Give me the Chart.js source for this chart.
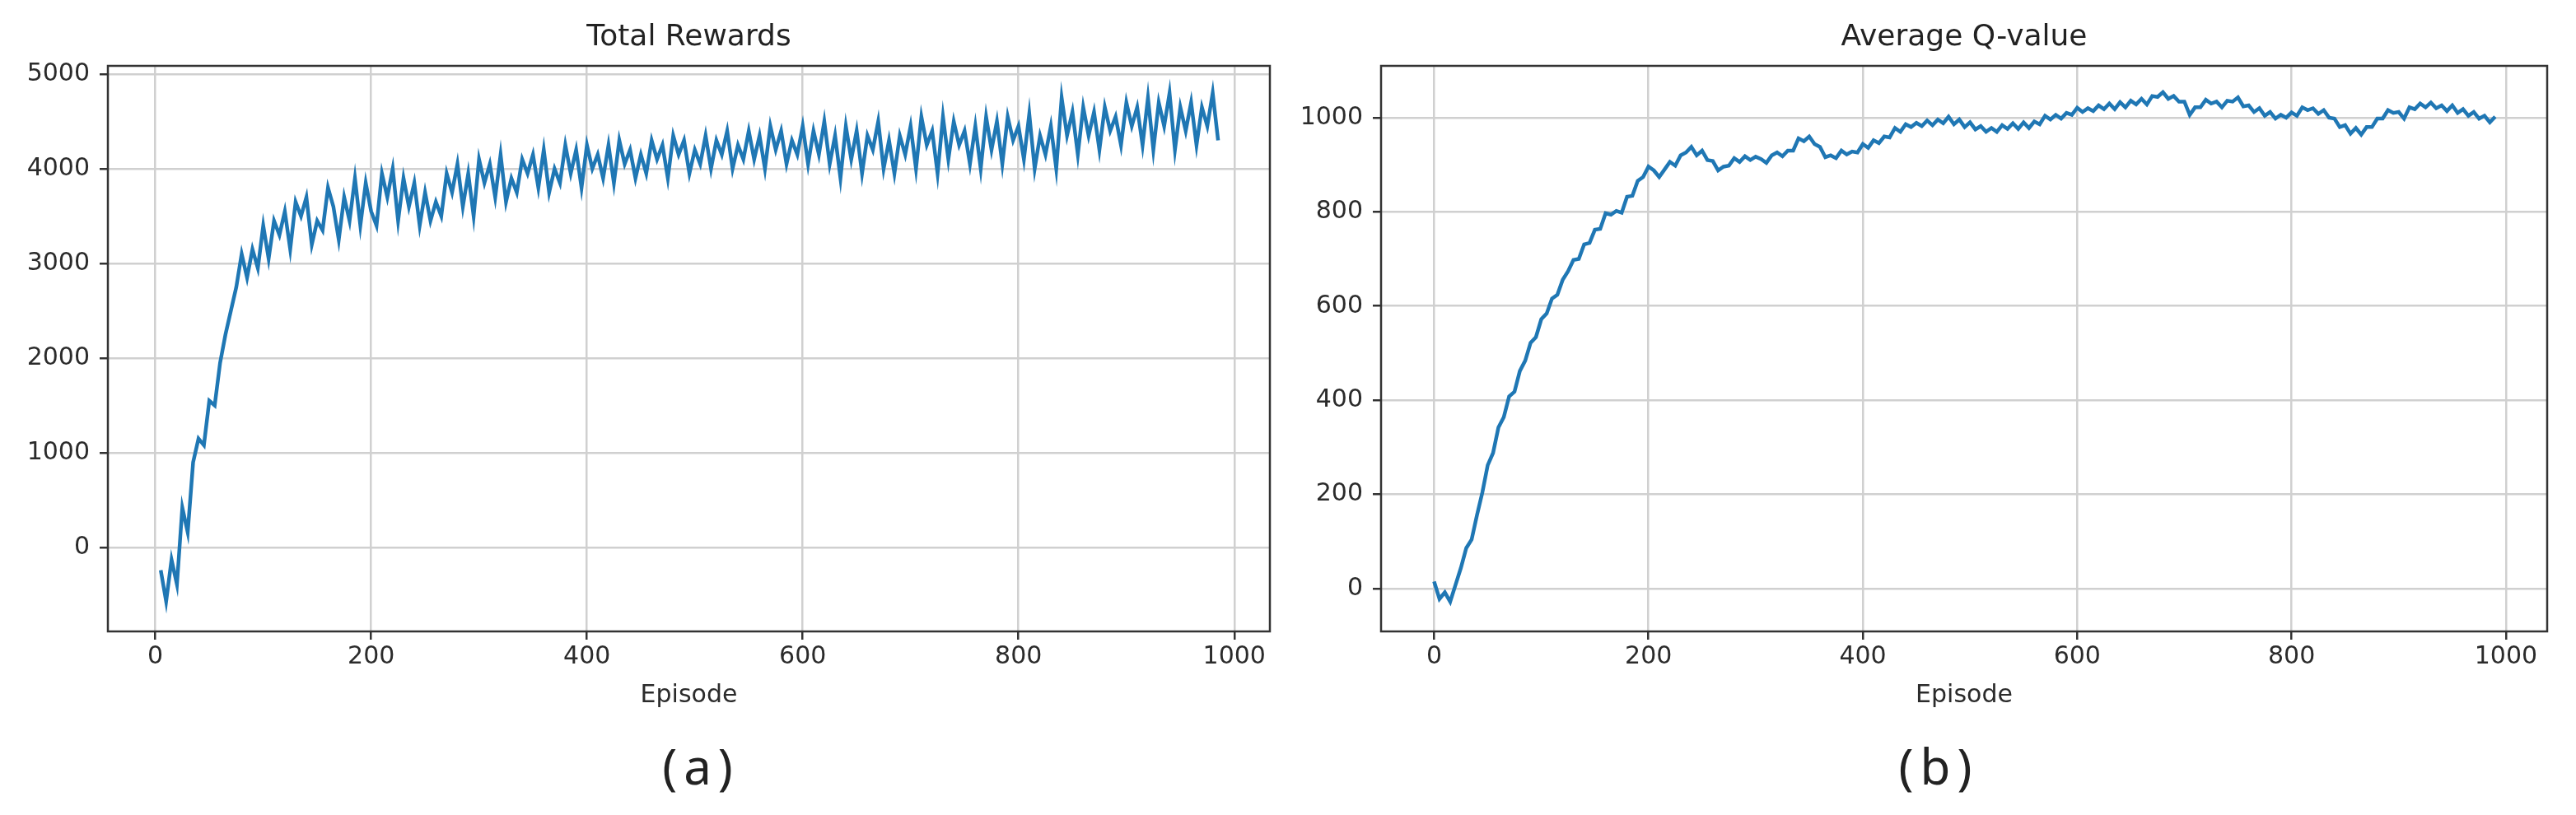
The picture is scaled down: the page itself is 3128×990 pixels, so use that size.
<!DOCTYPE html>
<html>
<head>
<meta charset="utf-8">
<script src="https://cdn.jsdelivr.net/npm/chart.js@4.4.0/dist/chart.umd.min.js"></script>
<style>
body { margin: 0; background: #fff; width: 3128px; height: 990px; position: relative; overflow: hidden; }
canvas { position: absolute; top: 0; }
#rewardsChart { left: 0; }
#qChart { left: 1560px; }
.tag { position: absolute; font-family: 'Noto Sans', sans-serif; font-size: 60px; color: #222; line-height: 1; transform: translate(-50%, -50%); letter-spacing: 8px; }
</style>
</head>
<body>
<canvas id="rewardsChart" width="1560" height="990"></canvas>
<canvas id="qChart" width="1568" height="990"></canvas>
<div class="tag" style="left:851px; top:930px">(a)</div>
<div class="tag" style="left:2354px; top:930px">(b)</div>
<script>
// episodes are every 5th one, starting here
var reward_first_episode = 5
var q_first_episode = 0
var episode_step = 5

// total rewards
var rewards = [
  -240, -570, -130, -390, 420, 160, 900, 1150, 1080, 1550,
  1500, 1950, 2250, 2500, 2750, 3100, 2850, 3150, 2950, 3400,
  3050, 3450, 3300, 3550, 3150, 3650, 3500, 3700, 3200, 3450,
  3350, 3800, 3600, 3250, 3700, 3450, 3900, 3400, 3850, 3550,
  3400, 3950, 3700, 4000, 3450, 3900, 3600, 3850, 3400, 3750,
  3450, 3650, 3500, 3950, 3750, 4050, 3600, 3950, 3500, 4100,
  3850, 4050, 3700, 4150, 3650, 3900, 3750, 4100, 3950, 4150,
  3800, 4200, 3750, 4000, 3850, 4250, 3950, 4200, 3800, 4250,
  4000, 4150, 3900, 4250, 3850, 4300, 4050, 4200, 3900, 4150,
  3950, 4300, 4100, 4250, 3900, 4350, 4150, 4300, 3950, 4200,
  4050, 4350, 4000, 4300, 4150, 4400, 4000, 4250, 4100, 4400,
  4100, 4350, 4000, 4450, 4200, 4400, 4050, 4300, 4150, 4450,
  4050, 4400, 4150, 4500, 4050, 4350, 3900, 4450, 4100, 4400,
  3950, 4350, 4200, 4500, 4000, 4300, 3950, 4350, 4150, 4450,
  4000, 4550, 4250, 4400, 3950, 4550, 4100, 4500, 4250, 4400,
  4050, 4450, 4000, 4550, 4200, 4500, 4050, 4550, 4300, 4450,
  4100, 4580, 4000, 4350, 4150, 4450, 4000, 4750, 4350, 4600,
  4150, 4650, 4350, 4600, 4200, 4650, 4400, 4550, 4250, 4700,
  4450, 4650, 4250, 4750, 4200, 4700, 4450, 4800, 4200, 4650,
  4400, 4700, 4250, 4650, 4450, 4800, 4300
]

// average q-value
var qvalues = [
  15, -22, -8, -28, 8, 44, 86, 104, 156, 204,
  262, 288, 342, 364, 408, 418, 462, 484, 522, 534,
  572, 584, 616, 624, 656, 674, 698, 700, 731, 734,
  762, 764, 797, 794, 802, 798, 832, 834, 866, 874,
  896, 888, 874, 890, 906, 898, 920, 926, 938, 920,
  930, 910, 908, 888, 896, 898, 914, 906, 918, 910,
  917, 912, 904, 920, 926, 918, 930, 930, 956, 950,
  960, 944, 938, 916, 920, 914, 930, 922, 928, 926,
  944, 936, 952, 946, 960, 958, 978, 970, 986, 980,
  989, 982, 994, 984, 996, 988, 1002, 986, 996, 980,
  990, 975, 982, 970, 978, 970, 984, 976, 988, 976,
  990, 978, 992, 986, 1004, 996, 1006, 998, 1010, 1006,
  1021, 1012, 1020, 1014, 1026, 1018, 1030, 1018, 1033, 1022,
  1036, 1028, 1040, 1028, 1046, 1044, 1054, 1040, 1046, 1034,
  1034, 1006, 1022, 1022, 1038, 1030, 1034, 1022, 1036, 1034,
  1043, 1024, 1026, 1012, 1020, 1004, 1012, 998, 1006, 1000,
  1011, 1004, 1022, 1016, 1020, 1008, 1016, 1000, 998, 980,
  984, 966, 978, 964, 980, 980, 998, 998, 1016, 1010,
  1012, 998, 1022, 1018, 1030, 1022, 1032, 1020, 1026, 1014,
  1026, 1010, 1018, 1004, 1012, 998, 1004, 990, 1002
]

var episode_ticks = [0, 200, 400, 600, 800, 1000]
var reward_ticks = [0, 1000, 2000, 3000, 4000, 5000]
var q_ticks = [0, 200, 400, 600, 800, 1000]

var fontFamily = "'DejaVu Sans', sans-serif"
var textColor = '#2b2b2b'
var gridColor = '#d0d0d0'
var spineColor = '#333'

// matplotlib style box round the plot area
var framePlugin = {
  id: 'frame',
  afterDatasetsDraw: function(chart) {
    var a = chart.chartArea
    var ctx = chart.ctx
    ctx.save()
    ctx.strokeStyle = spineColor
    ctx.lineWidth = 2.5
    ctx.strokeRect(a.left, a.top, a.right - a.left, a.bottom - a.top)
    ctx.restore()
  }
}

function toPoints(values, first){
  var pts = []
  for (var i = 0; i < values.length; i++){
    pts.push({x: first + i * episode_step, y: values[i]})
  }
  return pts
}

function axis(ticks, min, max, pad, extra){
  var a = {
    type: 'linear',
    min: min,
    max: max,
    afterBuildTicks: function(s){ s.ticks = ticks.map(function(v){ return {value: v} }) },
    ticks: {
      callback: function(v){ return String(v) },
      font: {family: fontFamily, size: 30},
      color: textColor,
      padding: pad,
      autoSkip: false,
      maxRotation: 0
    },
    grid: {color: gridColor, lineWidth: 2.5, tickLength: 10, tickColor: spineColor, tickWidth: 2.5},
    border: {display: false}
  }
  return Object.assign(a, extra)
}

function makeChart(id, title, values, first, yTicks, xMin, xMax, yMin, yMax, yWidth, padRight, lineWidth){
  var ctx = document.getElementById(id).getContext('2d')
  return new Chart(ctx, {
    type: 'line',
    data: {
      datasets: [{
        data: toPoints(values, first),
        borderColor: '#1f77b4',
        borderWidth: lineWidth,
        pointRadius: 0,
        tension: 0,
        fill: false
      }]
    },
    options: {
      responsive: false,
      animation: false,
      events: [],
      layout: {padding: {left: 0, right: padRight, top: 0, bottom: 113}},
      plugins: {
        legend: {display: false},
        tooltip: {enabled: false},
        title: {
          display: true,
          text: title,
          fullSize: false,
          color: '#222',
          font: {family: fontFamily, size: 36, weight: 'normal'},
          padding: {top: 24, bottom: 12.8}
        }
      },
      scales: {
        x: axis(episode_ticks, xMin, xMax, 3, {
          title: {display: true, text: 'Episode', color: textColor,
                  font: {family: fontFamily, size: 30}, padding: {top: 0, bottom: 14}},
          afterFit: function(s){ s.height = 110 }
        }),
        y: axis(yTicks, yMin, yMax, 12, {
          afterFit: function(s){ s.width = yWidth }
        })
      }
    },
    plugins: [framePlugin]
  })
}

makeChart('rewardsChart', 'Total Rewards', rewards, reward_first_episode, reward_ticks, -44, 1033, -887, 5087, 131, 18, 4.5)
makeChart('qChart', 'Average Q-value', qvalues, q_first_episode, q_ticks, -49.5, 1038.5, -91, 1110, 117, 35, 4.5)
</script>
</body>
</html>
